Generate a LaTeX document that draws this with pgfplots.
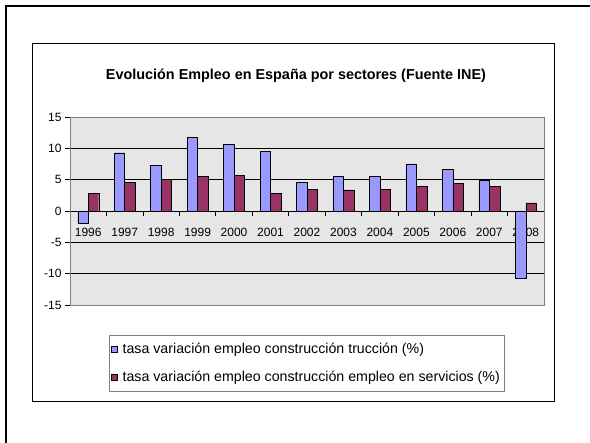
\documentclass[border=0pt]{standalone}
\usepackage{pgfplots}
\pgfplotsset{compat=1.18}
\usepackage{fontspec}
\setmainfont{Liberation Sans}
\definecolor{barblue}{RGB}{153,153,255}
\definecolor{barwine}{RGB}{153,51,102}
\definecolor{plotbg}{RGB}{230,230,230}
\pgfplotsset{sqlegend/.style={legend image code/.code={%
  \draw[##1] (0pt,-3pt) rectangle (5.5pt,3pt); \path (9pt,0pt);}}}
\begin{document}
\begin{tikzpicture}[x=1pt,y=1pt]
  \useasboundingbox (0,0) rectangle (590,443);
  % page frames
  \draw[line width=2pt] (6,0) -- (6,437) -- (590,437);
  \draw[line width=0.8pt] (32,42) rectangle (554,400);
  \node[anchor=base, font=\bfseries\fontsize{14.4}{17}\selectfont] at (296,363)
    {Evolución Empleo en España por sectores (Fuente INE)};
  \begin{axis}[
      at={(70pt,138pt)}, anchor=south west,
      scale only axis, width=474pt, height=188pt,
      axis x line*=middle, axis y line*=left,
      hide obscured x ticks=false, hide obscured y ticks=false,
      axis line style={gray},
      x axis line style={black},
      axis background/.style={fill=plotbg},
      ymin=-15, ymax=15, ytick={-15,-10,...,15},
      xmin=-0.5, xmax=12.5,
      xtick={-0.5,0.5,...,12.5},
      xticklabels={1996,1997,1998,1999,2000,2001,2002,2003,2004,2005,2006,2007,2008},
      x tick label as interval,
      tick align=outside, major tick length=5pt,
      xtick style={draw=black, line width=0.8pt},
      ytick style={draw=black, line width=0.8pt},
      ymajorgrids, grid style={black, line width=0.6pt},
      tick label style={font=\fontsize{12}{14}\selectfont},
      xticklabel style={yshift=-9pt},
      /pgf/number format/assume math mode=true,
      ybar=0pt, bar width=10.5pt,
      legend style={at={(0.0823,-0.16)}, anchor=north west, draw=gray,
        font=\fontsize{14.2}{17}\selectfont, legend cell align=left,
        row sep=12pt, inner xsep=2pt, inner ysep=6pt},
    ]
    \addplot[draw=black, fill=barblue, sqlegend]
      coordinates {(0,-2.0)(1,9.3)(2,7.3)(3,11.7)(4,10.6)(5,9.5)(6,4.6)
        (7,5.5)(8,5.5)(9,7.5)(10,6.6)(11,4.9)(12,-10.8)};
    \addlegendentry{tasa variación empleo construcción trucción (\%)}
    \addplot[draw=black, fill=barwine, sqlegend]
      coordinates {(0,2.8)(1,4.6)(2,5.05)(3,5.5)(4,5.7)(5,2.8)(6,3.5)
        (7,3.35)(8,3.5)(9,3.9)(10,4.4)(11,3.9)(12,1.3)};
    \addlegendentry{tasa variación empleo construcción empleo en servicios (\%)}
  \end{axis}
  \draw[gray, line width=0.8pt] (70,138) rectangle (544,326);
\end{tikzpicture}
\end{document}
